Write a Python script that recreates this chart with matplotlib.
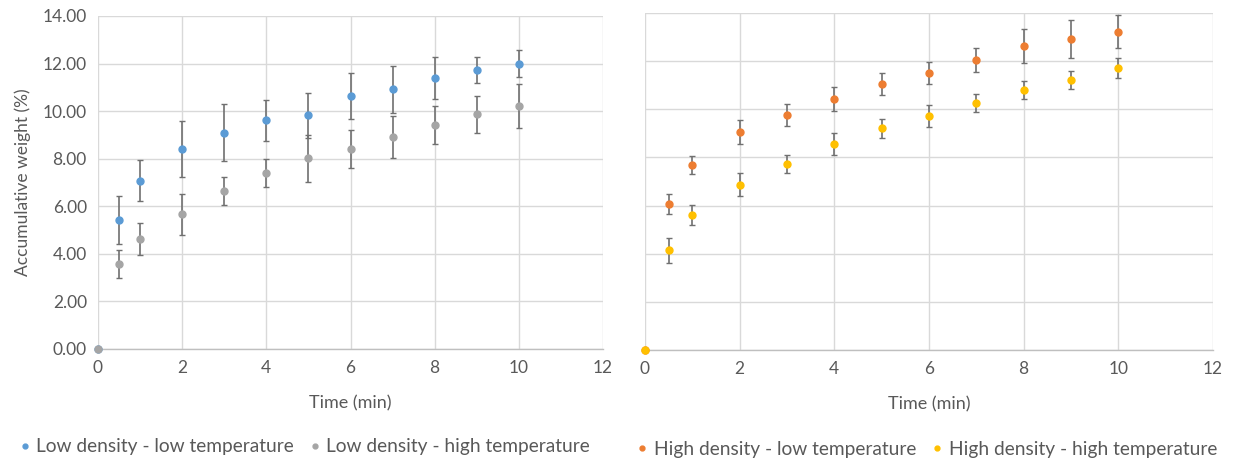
import matplotlib
matplotlib.use("Agg")
import matplotlib.pyplot as plt

matplotlib.rcParams["font.family"] = ["Lato", "DejaVu Sans"]

C_TEXT = "#595959"
C_GRID = "#D9D9D9"
C_AXIS = "#BFBFBF"
C_ERR = "#707070"

time_min = [0, 0.5, 1, 2, 3, 4, 5, 6, 7, 8, 9, 10]

# low density
ld_low = [0, 5.43, 7.08, 8.42, 9.10, 9.62, 9.83, 10.63, 10.91, 11.39, 11.72, 12.00]
ld_low_err = [0, 1.00, 0.86, 1.17, 1.20, 0.86, 0.95, 0.97, 0.97, 0.87, 0.54, 0.58]
ld_high = [0, 3.58, 4.62, 5.67, 6.65, 7.41, 8.01, 8.42, 8.91, 9.42, 9.87, 10.22]
ld_high_err = [0, 0.58, 0.67, 0.86, 0.60, 0.58, 0.98, 0.79, 0.88, 0.81, 0.77, 0.92]

# high density
hd_low = [0, 6.05, 7.69, 9.05, 9.77, 10.43, 11.04, 11.52, 12.04, 12.63, 12.91, 13.23]
hd_low_err = [0, 0.41, 0.38, 0.50, 0.46, 0.49, 0.46, 0.45, 0.50, 0.69, 0.78, 0.69]
hd_high = [0, 4.14, 5.62, 6.86, 7.73, 8.57, 9.21, 9.72, 10.27, 10.80, 11.23, 11.72]
hd_high_err = [0, 0.52, 0.42, 0.48, 0.36, 0.45, 0.40, 0.45, 0.38, 0.38, 0.38, 0.40]

x_ticks = [0, 2, 4, 6, 8, 10, 12]
y_ticks = [0, 2, 4, 6, 8, 10, 12, 14]

FS = 12.5

fig = plt.figure(figsize=(12.37, 4.61), dpi=100)
ax1 = fig.add_axes([0.0792, 0.2430, 0.4083, 0.7223])
ax2 = fig.add_axes([0.5214, 0.2408, 0.4592, 0.7310])


def style_axes(ax, show_y):
    ax.set_xlim(0, 12)
    ax.set_ylim(0, 14)
    ax.set_xticks(x_ticks)
    ax.set_yticks(y_ticks)
    ax.grid(True, color=C_GRID, linewidth=1)
    ax.set_axisbelow(True)
    for s in ["top", "right", "left"]:
        ax.spines[s].set_visible(False)
    ax.spines["bottom"].set_color(C_AXIS)
    ax.spines["bottom"].set_linewidth(1)
    ax.tick_params(length=0, colors=C_TEXT, labelsize=FS, pad=8)
    if show_y:
        ax.set_yticklabels([f"{v:.2f}" for v in y_ticks])
        ax.set_ylabel("Accumulative weight (%)", fontsize=FS, color=C_TEXT, labelpad=8)
    else:
        ax.set_yticklabels([])
    ax.set_xlabel("Time (min)", fontsize=13, color=C_TEXT, labelpad=14)


def draw(ax, y, err, color, label):
    ax.errorbar(time_min, y, yerr=err, fmt="o", color=color, markersize=5,
                ecolor=C_ERR, elinewidth=1.2, capsize=2.5, capthick=1,
                label=label, clip_on=False, zorder=3)


draw(ax1, ld_low, ld_low_err, "#5B9BD5", "Low density - low temperature")
draw(ax1, ld_high, ld_high_err, "#A5A5A5", "Low density - high temperature")
draw(ax2, hd_low, hd_low_err, "#ED7D31", "High density - low temperature")
draw(ax2, hd_high, hd_high_err, "#FFC000", "High density - high temperature")

style_axes(ax1, True)
style_axes(ax2, False)

for ax, xpos in [(ax1, 0.41), (ax2, 0.497)]:
    handles, labels = ax.get_legend_handles_labels()
    handles = [h[0] for h in handles]
    leg = ax.legend(handles, labels, loc="center", bbox_to_anchor=(xpos, -0.294),
                    ncol=2, frameon=False, fontsize=13.8, markerscale=0.7,
                    handlelength=0.5, handletextpad=0.35, columnspacing=0.85)
    for t in leg.get_texts():
        t.set_color(C_TEXT)

fig.savefig("out.png", dpi=100, facecolor="white")
